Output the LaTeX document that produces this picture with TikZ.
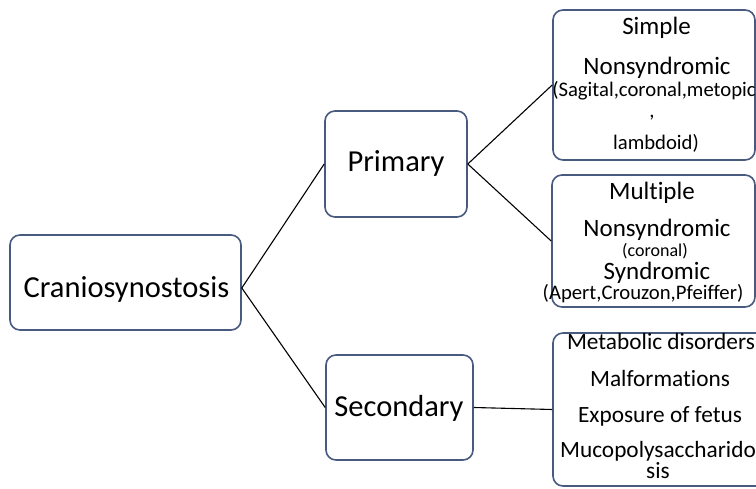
\documentclass[tikz,border=0pt]{standalone}
\usepackage{fontspec}
\setmainfont{Carlito}[Ligatures={NoCommon}]
\begin{document}
\begin{tikzpicture}[x=1pt,y=-1pt,
  boxline/.style={draw={rgb,255:red,72;green,90;blue,126}, line width=1.6pt, rounded corners=10pt},
  box/.style={boxline, inner sep=0pt},
  conn/.style={draw=black, line width=1.1pt},
  lbl/.style={anchor=base, inner sep=0pt, text=black},
  big/.style={lbl, font=\fontsize{30.5}{30.5}\selectfont},
  mid/.style={lbl, font=\fontsize{25}{25}\selectfont},
  side/.style={lbl, font=\fontsize{23.3}{23.3}\selectfont},
  small/.style={lbl, font=\fontsize{20.7}{20.7}\selectfont},
  tiny/.style={lbl, font=\fontsize{18}{18}\selectfont}]
\useasboundingbox (0,0) rectangle (756,489);
\clip (0,0) rectangle (756,489);
\fill[white] (0,0) rectangle (756,489);

% boxes
\node[box, minimum width=231pt, minimum height=95pt] (crano) at (125.5,282.5) {};
\node[box, minimum width=142pt, minimum height=106pt] (primary) at (396,164) {};
\node[box, minimum width=147pt, minimum height=105pt] (secondary) at (399.5,407.5) {};
\node[box, minimum width=202pt, minimum height=150pt] (simple) at (654,85) {};
\node[box, minimum width=203pt, minimum height=132pt] (multiple) at (653.5,241) {};
\node[box, minimum width=222pt, minimum height=153pt] (causes) at (664,409.5) {};
\coordinate (split) at ([yshift=-5.5pt]crano.east);

% labels
\node[big] (tcrano) at (126.5,298) {Craniosynostosis};
\node[big] (tprimary) at (396,172) {Primary};
\node[big] (tsecondary) at (399,417) {Secondary};

\node[mid] (tsimple) at (656.5,35) {Simple};
\node[mid] (tnon1) at (657,75) {Nonsyndromic};
\node[small] (tsut1) at (654,97) {(Sagital,coronal,metopic};
\node[small] (tcomma) at (652,118) {,};
\node[small] (tsut2) at (656,150) {lambdoid)};

\node[mid] (tmultiple) at (652,200) {Multiple};
\node[mid] (tnon2) at (657,237) {Nonsyndromic};
\node[tiny] (tcor) at (655,257) {(coronal)};
\node[mid] (tsyn) at (657,280) {Syndromic};
\node[small] (tapert) at (643,300) {(Apert,Crouzon,Pfeiffer)};

\node[side] (tmeta) at (661,350) {Metabolic disorders};
\node[side] (tmal) at (660,387) {Malformations};
\node[side] (texp) at (660,422) {Exposure of fetus};
\node[side] (tmuco) at (658,457) {Mucopolysaccharido};
\node[side] (tsis) at (658,478) {sis};

% connectors
\draw[conn] (split) -- (primary.west);
\draw[conn] (split) -- (secondary.west);
\draw[conn] (primary.east) -- (simple.west);
\draw[conn] (primary.east) -- (multiple.west);
\draw[conn] (secondary.east) -- (causes.west);
\end{tikzpicture}
\end{document}
